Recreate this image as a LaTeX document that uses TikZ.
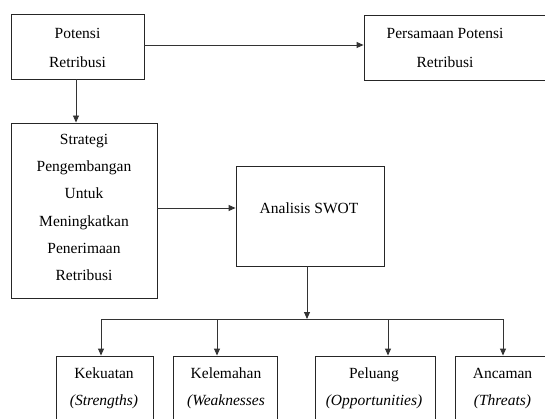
\documentclass[tikz,border=0pt]{standalone}
\usepackage{fontspec}
\setmainfont{Liberation Serif}
\usetikzlibrary{arrows.meta}
\newcommand\diafont{\fontsize{15.5}{27.2}\selectfont}
\newcommand\diafonttop{\fontsize{15.5}{29}\selectfont}
\begin{document}
\begin{tikzpicture}[x=1pt,y=-1pt,
  box/.style={draw=black!85,line width=0.9pt,inner sep=0pt,rectangle},
  txt/.style={inner sep=0pt,align=center,font=\diafont},
  txttop/.style={inner sep=0pt,align=center,font=\diafonttop},
  conn/.style={draw=black!80,line width=0.9pt},
  arr/.style={conn,-{Triangle[width=6pt,length=7pt]}}]
\useasboundingbox (0,0) rectangle (545,419);
% boxes
\node[box,minimum width=133pt,minimum height=65pt] (pot) at (77.5,46.5) {};
\node[box,minimum width=186pt,minimum height=65pt] (pers) at (457,47.5) {};
\node[box,minimum width=146pt,minimum height=175pt] (strat) at (84,210.5) {};
\node[box,minimum width=148pt,minimum height=100pt] (ana) at (310,216) {};
\node[box,minimum width=97pt,minimum height=74pt] (k1) at (104.5,393) {};
\node[box,minimum width=104pt,minimum height=74pt] (k2) at (225,393) {};
\node[box,minimum width=120pt,minimum height=74pt] (k3) at (375,393) {};
\node[box,minimum width=97pt,minimum height=74pt] (k4) at (503.5,393) {};
% texts
\node[txttop] (tpot) at (77.5,47.5) {\strut Potensi\\\strut Retribusi};
\node[txttop] (tpers) at (445,47.5) {\strut Persamaan Potensi\\\strut Retribusi};
\node[txt] (tstrat) at (84,207) {\strut Strategi\\\strut Pengembangan\\\strut Untuk\\\strut Meningkatkan\\\strut Penerimaan\\\strut Retribusi};
\node[txt] (tana) at (309,208) {\strut Analisis SWOT};
\node[txt] (tk1) at (104,386.5) {\strut Kekuatan\\\strut\textit{(Strengths)}};
\node[txt] (tk2) at (226,386.5) {\strut Kelemahan\\\strut\textit{(Weaknesses}};
\node[txt] (tk3) at (374,386.5) {\strut Peluang\\\strut\textit{(Opportunities)}};
\node[txt] (tk4) at (502.5,386.5) {\strut Ancaman\\\strut\textit{(Threats)}};
% bus coordinates
\coordinate (bus) at (307,319);
\coordinate (b1) at (101,319);
\coordinate (b2) at (217,319);
\coordinate (b3) at (388,319);
\coordinate (b4) at (503,319);
% connectors
\draw[arr] ([yshift=1.5pt]pot.east) -- ([yshift=1.5pt]pot.east -| pers.west);
\draw[arr] ([xshift=-1.5pt]pot.south) -- ([xshift=-1.5pt]pot.south |- strat.north);
\draw[arr] ([yshift=2.5pt]strat.east) -- ([yshift=2.5pt]strat.east -| ana.west);
\draw[arr] (bus |- ana.south) -- (bus);
\draw[conn] (b1) -- (b4);
\draw[arr] (b1) -- (b1 |- k1.north);
\draw[arr] (b2) -- (b2 |- k2.north);
\draw[arr] (b3) -- (b3 |- k3.north);
\draw[arr] (b4) -- (b4 |- k4.north);
\end{tikzpicture}
\end{document}
